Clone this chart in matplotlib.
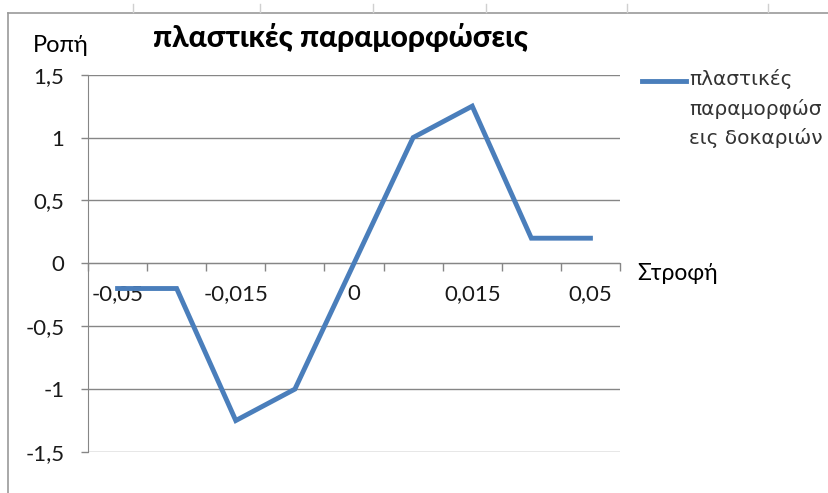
import matplotlib
matplotlib.use("Agg")
import matplotlib.pyplot as plt
from matplotlib.lines import Line2D
from matplotlib.ticker import FuncFormatter, FixedLocator

# Data
categories = ["-0,05", "", "-0,015", "", "0", "", "0,015", "", "0,05"]
values = [-0.2, -0.2, -1.25, -1.0, 0.0, 1.0, 1.25, 0.2, 0.2]
y_ticks = [-1.5, -1.0, -0.5, 0.0, 0.5, 1.0, 1.5]
title = "πλαστικές παραμορφώσεις"
series_name = "πλαστικές\nπαραμορφώσ\nεις δοκαριών"
y_label = "Ροπή"
x_label = "Στροφή"

plt.rcParams['font.family'] = ['Lato', 'Open Sans', 'DejaVu Sans']

W, H = 829, 493
fig = plt.figure(figsize=(W / 100, H / 100), dpi=100)
fig.patch.set_facecolor("white")

def fx(px):
    return px / W

def fy(py):
    return 1 - py / H

left, right, top, bottom = 88, 620, 74.7, 452
ax = fig.add_axes([fx(left), fy(bottom), fx(right) - fx(left), fy(top) - fy(bottom)])

grid_c = "#868686"
line_c = "#4A7EBB"

xs = list(range(len(values)))
ax.plot(xs, values, color=line_c, lw=3.5, solid_joinstyle="miter", zorder=3)

ax.set_xlim(-0.5, len(values) - 0.5)
ax.set_ylim(-1.5, 1.5)

# y axis
ax.set_yticks(y_ticks)
ax.yaxis.set_major_formatter(FuncFormatter(lambda v, p: ("%g" % v).replace(".", ",")))
ax.tick_params(axis="y", direction="out", length=5, width=1, color=grid_c,
               labelsize=16, pad=12, labelcolor="#1a1a1a")
ax.yaxis.grid(True, color=grid_c, lw=1)
ax.set_axisbelow(True)

# x axis at zero
ax.spines["bottom"].set_position(("data", 0))
ax.spines["bottom"].set_color(grid_c)
ax.spines["left"].set_color(grid_c)
ax.spines["top"].set_visible(False)
ax.spines["right"].set_visible(False)
ax.set_xticks(xs)
ax.set_xticklabels(categories)
ax.xaxis.set_minor_locator(FixedLocator([i - 0.5 for i in range(len(values) + 1)]))
ax.tick_params(axis="x", which="major", length=0, labelsize=16, pad=15, labelcolor="#1a1a1a")
ax.tick_params(axis="x", which="minor", direction="out", length=6, width=1, color=grid_c)

# texts
fig.text(fx(341), fy(38), title, ha="center", va="center", fontsize=21.5, fontweight="black")
fig.text(fx(33), fy(45), y_label, ha="left", va="center", fontsize=17)
fig.text(fx(637), fy(274), x_label, ha="left", va="center", fontsize=16.5)

# legend
fig.add_artist(Line2D([fx(642), fx(686)], [fy(81), fy(81)], color=line_c, lw=3.5))
fig.text(fx(689), fy(69), series_name, ha="left", va="top", fontsize=14.5,
         family=["DejaVu Sans"], color="#333333", linespacing=1.6)

# chart border
border_c = "#9a9a9a"
fig.add_artist(Line2D([fx(8), fx(8)], [fy(13), 0], color=border_c, lw=1.2))
fig.add_artist(Line2D([fx(8), 1], [fy(13), fy(13)], color=border_c, lw=1.2))
for px in [133, 260, 373, 486, 627, 768]:
    fig.add_artist(Line2D([fx(px), fx(px)], [fy(4), fy(12)], color="#d0d0d0", lw=1))

fig.savefig("out.png", dpi=100)
